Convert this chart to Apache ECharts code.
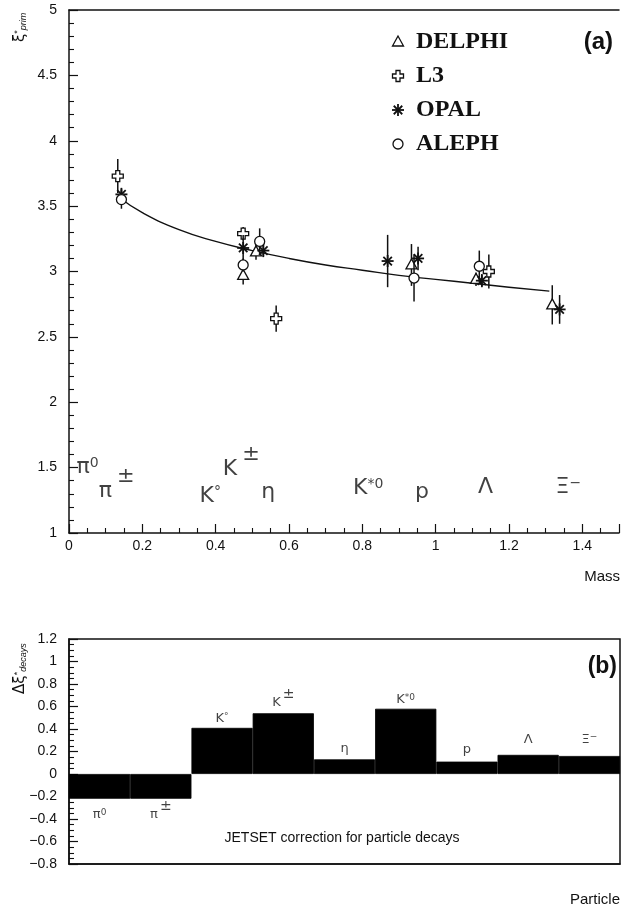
<!DOCTYPE html>
<html>
<head>
<meta charset="utf-8">
<script src="https://cdn.jsdelivr.net/npm/echarts@6/dist/echarts.min.js"></script>
<style>
  html, body { margin: 0; padding: 0; background: #ffffff; }
  #chart { width: 622px; height: 914px; }
</style>
</head>
<body>
<div id="chart"></div>
<script>
// ---------- Panel (a): xi* peak position versus particle mass ----------
// each point: [mass (GeV), xi*, error]
const delphiPts = [[0.475, 2.97, 0.07], [0.51, 3.15, 0.06], [0.934, 3.05, 0.16], [1.11, 2.94, 0.05], [1.318, 2.745, 0.15]];
const l3Pts     = [[0.133, 3.73, 0.13], [0.475, 3.29, 0.05], [0.565, 2.64, 0.10], [1.145, 3.00, 0.13]];
const opalPts   = [[0.143, 3.59, 0.05], [0.475, 3.18, 0.10], [0.53, 3.16, 0.05], [0.869, 3.08, 0.20], [0.952, 3.10, 0.09], [1.126, 2.93, 0.05], [1.338, 2.71, 0.11]];
const alephPts  = [[0.143, 3.55, 0.07], [0.475, 3.05, 0.05], [0.52, 3.23, 0.10], [0.941, 2.95, 0.18], [1.119, 3.04, 0.12]];

// fitted curve through the measurements
const fitMass = [0.14, 0.2, 0.3, 0.4, 0.5, 0.6, 0.7, 0.8, 0.9, 1.0, 1.1, 1.2, 1.31];
const fitXi   = [3.56, 3.45, 3.32, 3.23, 3.16, 3.10, 3.05, 3.01, 2.97, 2.94, 2.91, 2.88, 2.85];

// particle names written along the bottom of panel (a): [mass, xi*, rich text]
const massLabels = [
  [0.051, 1.50, '{b|π}{s|0}'],
  [0.13, 1.375, '{B|π}{p|±}'],
  [0.385, 1.28, '{b|K}{s|°}'],
  [0.47, 1.543, '{B|K}{p|±}'],
  [0.543, 1.31, '{b|η}'],
  [0.816, 1.34, '{b|K}{s|*0}'],
  [0.963, 1.31, '{b|p}'],
  [1.136, 1.35, '{b|Λ}'],
  [1.362, 1.35, '{b|Ξ}{s|−}']
];

const massTicks = [0, 0.2, 0.4, 0.6, 0.8, 1, 1.2, 1.4];

// ---------- Panel (b): JETSET correction for particle decays ----------
const particles = ['π0', 'π±', 'K0', 'K±', 'η', 'K*0', 'p', 'Λ', 'Ξ-'];
const decayCorr = [-0.22, -0.22, 0.41, 0.54, 0.13, 0.58, 0.11, 0.17, 0.16];
// label heights above / below each bar
const barLabelY = [-0.36, -0.32, 0.49, 0.675, 0.23, 0.66, 0.22, 0.31, 0.31];
const barLabelText = ['{b|π}{s|0}', '{B|π}{p|±}', '{b|K}{s|°}', '{B|K}{p|±}', '{b|η}', '{b|K}{s|*0}', '{b|p}', '{b|Λ}', '{b|Ξ}{s|−}'];

const FONT = '"Liberation Sans", Arial, sans-serif';
const GLYPH = '"DejaVu Sans", sans-serif';
const INK = '#111';

function markerShape(kind, cx, cy) {
  const st = { fill: '#fff', stroke: INK, lineWidth: 1.3 };
  if (kind === 'tri') {
    return { type: 'polygon', shape: { points: [[cx, cy - 6], [cx - 5.5, cy + 4], [cx + 5.5, cy + 4]] }, style: st };
  }
  if (kind === 'cross') {
    const a = 2, L = 5.5;
    const p = [[-a, -L], [a, -L], [a, -a], [L, -a], [L, a], [a, a], [a, L], [-a, L], [-a, a], [-L, a], [-L, -a], [-a, -a]]
      .map(q => [cx + q[0], cy + q[1]]);
    return { type: 'polygon', shape: { points: p }, style: st };
  }
  if (kind === 'star') {
    const r = 6, children = [];
    for (let k = 0; k < 4; k++) {
      const ang = k * Math.PI / 4;
      children.push({ type: 'line', shape: { x1: cx - r * Math.cos(ang), y1: cy - r * Math.sin(ang), x2: cx + r * Math.cos(ang), y2: cy + r * Math.sin(ang) },
        style: { stroke: INK, lineWidth: 1.8 } });
    }
    return { type: 'group', children: children };
  }
  return { type: 'circle', shape: { cx: cx, cy: cy, r: 5 }, style: st };
}

function pointSeries(name, data, kind) {
  return {
    name: name, type: 'custom', xAxisIndex: 0, yAxisIndex: 0, z: 5,
    data: data,
    renderItem: function (params, api) {
      const x = api.value(0), y = api.value(1), e = api.value(2);
      const c = api.coord([x, y]);
      const hi = api.coord([x, y + e]);
      const lo = api.coord([x, y - e]);
      return {
        type: 'group',
        children: [
          { type: 'line', shape: { x1: c[0], y1: hi[1], x2: c[0], y2: lo[1] }, style: { stroke: INK, lineWidth: 1.5 } },
          markerShape(kind, c[0], c[1])
        ]
      };
    }
  };
}

// rich styles: b = symbol, s = small superscript, B + p = symbol with raised large ±
const richBig = {
  b: { fontFamily: GLYPH, fontSize: 22, color: INK },
  B: { fontFamily: GLYPH, fontSize: 22, color: INK, lineHeight: 36, verticalAlign: 'bottom' },
  s: { fontFamily: GLYPH, fontSize: 14, color: INK, verticalAlign: 'top' },
  p: { fontFamily: GLYPH, fontSize: 21, color: INK, verticalAlign: 'top', padding: [0, 0, 0, 5] }
};
const richSmall = {
  b: { fontFamily: GLYPH, fontSize: 13, color: INK },
  B: { fontFamily: GLYPH, fontSize: 13, color: INK, lineHeight: 22, verticalAlign: 'bottom' },
  s: { fontFamily: GLYPH, fontSize: 9, color: INK, verticalAlign: 'top' },
  p: { fontFamily: GLYPH, fontSize: 14, color: INK, verticalAlign: 'top', padding: [0, 0, 0, 2] }
};

const legendKinds = [['DELPHI', 'tri'], ['L3', 'cross'], ['OPAL', 'star'], ['ALEPH', 'circle']];
const legendGraphics = [];
legendKinds.forEach(function (item, i) {
  const y = 42 + i * 34;
  legendGraphics.push(markerShape(item[1], 398, y));
  legendGraphics.push({ type: 'text', x: 416, y: y, style: { text: item[0], fontFamily: '"Liberation Serif", "Times New Roman", serif', fontWeight: 'bold', fontSize: 24, fill: INK, textVerticalAlign: 'middle' } });
});

const chart = echarts.init(document.getElementById('chart'), null, { renderer: 'canvas' });

const axisText = { fontFamily: FONT, fontSize: 14, color: INK };
const tickStyle = { show: true, inside: true, length: 9, lineStyle: { color: INK, width: 1.2 } };
const frameLine = { show: true, lineStyle: { color: INK, width: 1.5 } };

chart.setOption({
  backgroundColor: '#ffffff',
  animation: false,
  grid: [
    { left: 69, top: 10, width: 553, height: 523, show: false },
    { left: 69, top: 639, width: 551, height: 225, show: true, borderColor: INK, borderWidth: 1.5 }
  ],
  xAxis: [
    {
      gridIndex: 0, type: 'value', min: 0, max: 1.5, interval: 0.2,
      axisLine: frameLine,
      axisTick: tickStyle,
      minorTick: { show: true, splitNumber: 4, length: 5, lineStyle: { color: INK, width: 1.1 } },
      splitLine: { show: false },
      axisLabel: Object.assign({ margin: 6, formatter: function (v) { return massTicks.indexOf(+v.toFixed(2)) >= 0 ? String(+v.toFixed(2)) : ''; } }, axisText)
    },
    {
      gridIndex: 1, type: 'category', data: particles, boundaryGap: true,
      axisLine: { show: true, onZero: false, lineStyle: { color: INK, width: 1.5 } },
      axisTick: { show: false }, axisLabel: { show: false }, splitLine: { show: false }
    },
    {
      // upper frame edge of panel (a)
      gridIndex: 0, type: 'value', position: 'top', min: 0, max: 1.5,
      axisLine: frameLine, axisTick: { show: false }, axisLabel: { show: false }, splitLine: { show: false }
    }
  ],
  yAxis: [
    {
      gridIndex: 0, type: 'value', min: 1, max: 5, interval: 0.5,
      axisLine: frameLine,
      axisTick: tickStyle,
      minorTick: { show: true, splitNumber: 5, length: 5, lineStyle: { color: INK, width: 1.1 } },
      splitLine: { show: false },
      axisLabel: Object.assign({ margin: 12 }, axisText)
    },
    {
      gridIndex: 1, type: 'value', min: -0.8, max: 1.2, interval: 0.2,
      axisLine: frameLine,
      axisTick: tickStyle,
      minorTick: { show: true, splitNumber: 4, length: 5, lineStyle: { color: INK, width: 1.1 } },
      splitLine: { show: false },
      axisLabel: Object.assign({ margin: 12, formatter: function (v) { return String(+v.toFixed(2)).replace('-', '−'); } }, axisText)
    }
  ],
  series: [
    {
      name: 'fit', type: 'line', xAxisIndex: 0, yAxisIndex: 0, z: 3,
      data: fitMass.map(function (m, i) { return [m, fitXi[i]]; }),
      smooth: true, symbol: 'none', lineStyle: { color: INK, width: 1.4 }
    },
    pointSeries('DELPHI', delphiPts, 'tri'),
    pointSeries('L3', l3Pts, 'cross'),
    pointSeries('OPAL', opalPts, 'star'),
    pointSeries('ALEPH', alephPts, 'circle'),
    {
      name: 'particle names', type: 'scatter', xAxisIndex: 0, yAxisIndex: 0, symbolSize: 0,
      data: massLabels.map(function (d) { return { value: [d[0], d[1]], text: d[2] }; }),
      label: { show: true, position: 'inside', formatter: function (p) { return p.data.text; }, rich: richBig }
    },
    {
      name: 'decay correction', type: 'bar', xAxisIndex: 1, yAxisIndex: 1,
      data: decayCorr, barCategoryGap: '0%',
      itemStyle: { color: '#000', borderColor: '#000', borderWidth: 0.8 }
    },
    {
      name: 'bar labels', type: 'scatter', xAxisIndex: 1, yAxisIndex: 1, symbolSize: 0,
      data: particles.map(function (p, i) { return { value: [i, barLabelY[i]], text: barLabelText[i] }; }),
      label: { show: true, position: 'inside', formatter: function (p) { return p.data.text; }, rich: richSmall }
    }
  ],
  graphic: [
    { type: 'group', children: legendGraphics },
    { type: 'text', x: 613, y: 42, style: { text: '(a)', fontFamily: FONT, fontWeight: 'bold', fontSize: 24, fill: INK, textAlign: 'right', textVerticalAlign: 'middle' } },
    { type: 'text', x: 617, y: 667, style: { text: '(b)', fontFamily: FONT, fontWeight: 'bold', fontSize: 23, fill: INK, textAlign: 'right', textVerticalAlign: 'middle' } },
    { type: 'text', x: 620, y: 577, style: { text: 'Mass', fontFamily: FONT, fontSize: 15, fill: INK, textAlign: 'right', textVerticalAlign: 'middle' } },
    { type: 'text', x: 620, y: 900, style: { text: 'Particle', fontFamily: FONT, fontSize: 15, fill: INK, textAlign: 'right', textVerticalAlign: 'middle' } },
    { type: 'text', x: 342, y: 838, style: { text: 'JETSET correction for particle decays', fontFamily: FONT, fontSize: 14, fill: INK, textAlign: 'center', textVerticalAlign: 'middle' } },
    { type: 'text', x: 28, y: 42, rotation: Math.PI / 2,
      style: { text: '{x|ξ}{u|*}{d|prim}', textAlign: 'left', textVerticalAlign: 'bottom',
        rich: { x: { fontSize: 15, fontFamily: GLYPH, fill: INK }, u: { fontSize: 9, verticalAlign: 'top', fill: INK }, d: { fontSize: 9, fontFamily: FONT, fontStyle: 'italic', verticalAlign: 'bottom', fill: INK } } } },
    { type: 'text', x: 28, y: 694, rotation: Math.PI / 2,
      style: { text: '{x|Δξ}{u|*}{d|decays}', textAlign: 'left', textVerticalAlign: 'bottom',
        rich: { x: { fontSize: 15, fontFamily: GLYPH, fill: INK }, u: { fontSize: 9, verticalAlign: 'top', fill: INK }, d: { fontSize: 9, fontFamily: FONT, fontStyle: 'italic', verticalAlign: 'bottom', fill: INK } } } }
  ]
});
</script>
</body>
</html>
